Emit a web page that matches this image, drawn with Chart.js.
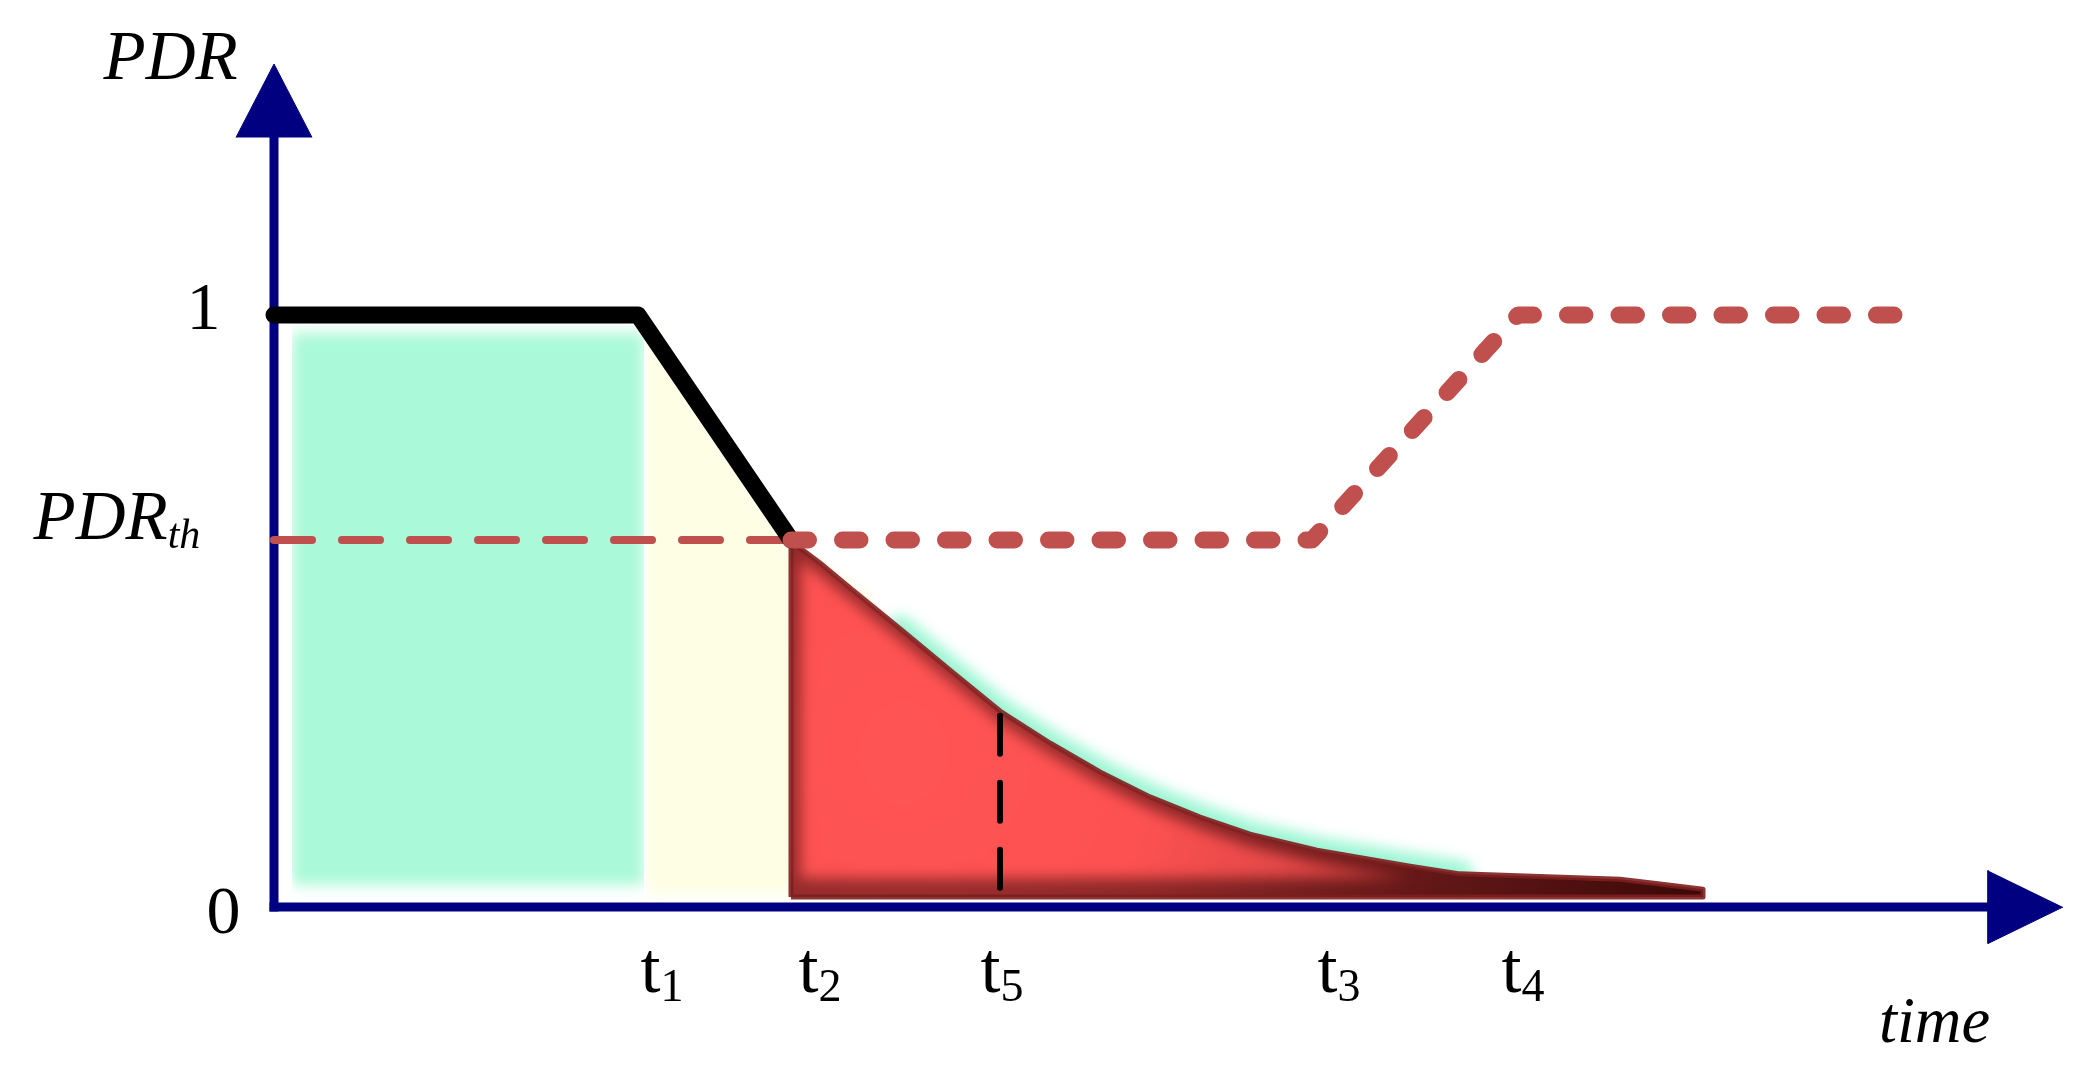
<!DOCTYPE html>
<html>
<head>
<meta charset="utf-8">
<script src="https://cdn.jsdelivr.net/npm/chart.js@4/dist/chart.umd.min.js"></script>
<style>
  html, body { margin: 0; padding: 0; background: #ffffff; }
  #wrap { position: relative; width: 2086px; height: 1071px; }
</style>
</head>
<body>
<div id="wrap"><canvas id="c"></canvas></div>
<script>
// ---------------- data ----------------
const PDR_TH = 0.62;

// tick labels
const xTickNames  = ['t', 't', 't', 't', 't'];
const xTickSubs   = ['1', '2', '5', '3', '4'];
const xTickValues = [3.88, 5.46, 7.28, 10.65, 12.49];
const yTickValues = [0, PDR_TH, 1];
const yTickNames  = ['0', 'PDR', '1'];
const yTickSubs   = ['', 'th', ''];
const axisTitles  = ['PDR', 'time'];

// measured PDR (solid black)
const pdrTime  = [0, 3.64, 5.17];
const pdrValue = [1, 1, PDR_TH];

// threshold (thin dashed)
const thresholdTime  = [0, 5.17];
const thresholdValue = [PDR_TH, PDR_TH];

// recovery (thick dotted)
const recoveryTime  = [5.17, 10.38, 12.44, 16.22];
const recoveryValue = [PDR_TH, PDR_TH, 1, 1];

// decay area (red)
const decayTime  = [5.17, 5.46, 5.76, 6.26, 6.76, 7.26, 7.76, 8.26, 8.76, 9.26, 9.76, 10.43, 11.36, 11.86, 13.46, 13.86, 14.29];
const decayValue = [0.618, 0.581, 0.539, 0.470, 0.400, 0.331, 0.277, 0.228, 0.186, 0.152, 0.123, 0.096, 0.069, 0.056, 0.047, 0.039, 0.030];
const DECAY_BASE = 0.017;

// t5 marker (black dashed)
const t5Time  = [7.26, 7.26];
const t5Value = [0.323, 0.032];

// normal phase (green block)
const normalTime  = [0.18, 3.70];
const normalValue = [0.97, 0.97];
const NORMAL_BASE = 0.037;

// degradation phase (pale yellow)
const degradeTime  = [3.72, 5.17, 6.0];
const degradeValue = [0.985, 0.605, 0.52];
const DEGRADE_BASE = 0.02;

// axes extents
const AXIS_X_END = 17.14, AXIS_X_TIP = 17.89;
const AXIS_Y_END = 1.30,  AXIS_Y_TIP = 1.424;

// ---------------- styles ----------------
const NAVY = '#000080';
const RED = '#c0504d';
const arrowStyle = { halfX: 0.38, halfY: 0.0617 };
const shadeInset = { left: 0.10, top: 0.02, bottom: 0.032 };
const decayStyle = {
  core: [6.3, 0.26], radius: 820,
  darkStops: [[0, '#a53232'], [0.35, '#8e2828'], [0.6, '#6a1a1a'], [1, '#3a0808']],
  brightStops: [[0, '#ff5454'], [0.3, '#fd5151'], [0.48, '#e44848'], [0.66, '#b33333'], [0.85, '#7a1e1e'], [1, '#4a0d0d']]
};
const labelStyle = {
  family: '"Liberation Serif", "Times New Roman", serif',
  color: '#000000',
  xTick: { size: 72, subSize: 46, dy: 85, subDy: 9 },
  yTick: [
    { size: 68, italic: false, dx: -67.6, dy: 26 },
    { size: 69, subSize: 42, italic: true, dx: -240.5, dy: -1, subDy: 9 },
    { size: 68, italic: false, dx: -87.5, dy: 14 }
  ],
  titleY: { size: 69, dx: -170.5, dy: 15 },
  titleX: { size: 64.5, dx: -184, dy: 135 }
};

const pts = (xs, ys) => xs.map((x, i) => ({ x, y: ys[i] }));

function radial(stops) {
  return function (c) {
    const chart = c.chart;
    const { ctx, chartArea, scales } = chart;
    if (!chartArea || !scales.x) return stops[0][1];
    const cx = scales.x.getPixelForValue(decayStyle.core[0]);
    const cy = scales.y.getPixelForValue(decayStyle.core[1]);
    const g = ctx.createRadialGradient(cx, cy, 0, cx, cy, decayStyle.radius);
    stops.forEach(([o, col]) => g.addColorStop(o, col));
    return g;
  };
}

// soft (blurred) edges for some layers
const softEdge = {
  id: 'softEdge',
  beforeDatasetDraw(chart, args) {
    const ds = chart.data.datasets[args.index];
    if (ds.blur) { chart.ctx.save(); chart.ctx.filter = 'blur(' + ds.blur + 'px)'; }
  },
  afterDatasetDraw(chart, args) {
    const ds = chart.data.datasets[args.index];
    if (ds.blur) chart.ctx.restore();
  }
};
try {
  const filler = Chart.registry.plugins.get('filler');
  Chart.unregister(filler);
  Chart.register(softEdge);
  Chart.register(filler);
} catch (e) {
  Chart.register(softEdge);
}

// text labels placed through the scales
const textLabels = {
  id: 'textLabels',
  afterDraw(chart) {
    const { ctx } = chart;
    const x = chart.scales.x, y = chart.scales.y;
    const S = labelStyle;
    const font = (size, italic) => (italic ? 'italic ' : '') + size + 'px ' + S.family;
    const x0 = x.getPixelForValue(0), y0 = y.getPixelForValue(0);
    ctx.save();
    ctx.fillStyle = S.color;
    ctx.textBaseline = 'alphabetic';
    ctx.textAlign = 'left';
    xTickValues.forEach((v, i) => {
      const t = S.xTick;
      ctx.font = font(t.size, false);
      const w1 = ctx.measureText(xTickNames[i]).width;
      ctx.font = font(t.subSize, false);
      const w2 = ctx.measureText(xTickSubs[i]).width;
      const left = x.getPixelForValue(v) - (w1 + w2) / 2;
      const base = y0 + t.dy;
      ctx.font = font(t.size, false);
      ctx.fillText(xTickNames[i], left, base);
      ctx.font = font(t.subSize, false);
      ctx.fillText(xTickSubs[i], left + w1, base + t.subDy);
    });
    yTickValues.forEach((v, i) => {
      const t = S.yTick[i];
      const left = x0 + t.dx;
      const base = y.getPixelForValue(v) + t.dy;
      ctx.font = font(t.size, t.italic);
      ctx.fillText(yTickNames[i], left, base);
      if (yTickSubs[i]) {
        const w1 = ctx.measureText(yTickNames[i]).width;
        ctx.font = font(t.subSize, t.italic);
        ctx.fillText(yTickSubs[i], left + w1, base + t.subDy);
      }
    });
    ctx.font = font(S.titleY.size, true);
    ctx.fillText(axisTitles[0], x0 + S.titleY.dx, y.getPixelForValue(AXIS_Y_TIP) + S.titleY.dy);
    ctx.font = font(S.titleX.size, true);
    ctx.fillText(axisTitles[1], x.getPixelForValue(AXIS_X_TIP) + S.titleX.dx, y0 + S.titleX.dy);
    ctx.restore();
  }
};

// decay region outline and its inset (for the inner shading)
const lastT = decayTime[decayTime.length - 1];
const decayPolygon = [{ x: decayTime[0], y: DECAY_BASE }]
  .concat(pts(decayTime, decayValue))
  .concat([{ x: lastT, y: DECAY_BASE }, { x: decayTime[0], y: DECAY_BASE }]);
const coreBase = DECAY_BASE + shadeInset.bottom;
const coreLeft = decayTime[0] + shadeInset.left;
const coreCurve = pts(decayTime, decayValue)
  .filter(p => p.x >= coreLeft)
  .map(p => ({ x: p.x, y: Math.max(coreBase, p.y - shadeInset.top) }));
const coreTopAtLeft = decayValue[0] + (decayValue[1] - decayValue[0]) * (coreLeft - decayTime[0]) / (decayTime[1] - decayTime[0]) - shadeInset.top;
const corePolygon = [{ x: coreLeft, y: coreBase }, { x: coreLeft, y: coreTopAtLeft }]
  .concat(coreCurve)
  .concat([{ x: lastT, y: coreBase }]);
const glowPoints = pts(decayTime, decayValue).filter(p => p.x >= 5.9 && p.x <= 12.5);

const datasets = [
  { label: 'y arrow', order: 1,
    data: [{ x: -arrowStyle.halfX, y: AXIS_Y_END }, { x: 0, y: AXIS_Y_TIP }, { x: arrowStyle.halfX, y: AXIS_Y_END }],
    fill: 'shape', backgroundColor: NAVY, borderColor: NAVY, borderWidth: 1 },
  { label: 'x arrow', order: 1,
    data: [{ x: AXIS_X_END, y: arrowStyle.halfY }, { x: AXIS_X_END, y: -arrowStyle.halfY }, { x: AXIS_X_TIP, y: 0 }],
    fill: 'shape', backgroundColor: NAVY, borderColor: NAVY, borderWidth: 1 },
  { label: 'recovery', order: 2, data: pts(recoveryTime, recoveryValue), fill: false,
    borderColor: RED, borderWidth: 17, borderDash: [17.5, 34], borderCapStyle: 'round', borderJoinStyle: 'round' },
  { label: 'PDR', order: 3, data: pts(pdrTime, pdrValue), fill: false,
    borderColor: '#000000', borderWidth: 17, borderCapStyle: 'round', borderJoinStyle: 'round' },
  { label: 'threshold', order: 4, data: pts(thresholdTime, thresholdValue), fill: false,
    borderColor: RED, borderWidth: 8, borderDash: [38, 30], borderCapStyle: 'round' },
  { label: 't5', order: 5, data: pts(t5Time, t5Value), fill: false,
    borderColor: '#000000', borderWidth: 6, borderDash: [38, 29], borderCapStyle: 'round' },
  { label: 'y axis', order: 6, data: [{ x: 0, y: AXIS_Y_END }, { x: 0, y: 0 }], fill: false,
    borderColor: NAVY, borderWidth: 9, borderCapStyle: 'square' },
  { label: 'x axis', order: 6, data: [{ x: 0, y: 0 }, { x: AXIS_X_END, y: 0 }], fill: false,
    borderColor: NAVY, borderWidth: 9, borderCapStyle: 'square' },
  { label: 'decay core', order: 6.8, data: corePolygon, fill: 'shape', blur: 7,
    backgroundColor: radial(decayStyle.brightStops), borderColor: 'rgba(0,0,0,0)', borderWidth: 0 },
  { label: 'decay', order: 7, data: decayPolygon, fill: 'shape',
    backgroundColor: radial(decayStyle.darkStops), borderColor: 'rgba(125,30,30,0.9)', borderWidth: 5, borderJoinStyle: 'round' },
  { label: 'glow', order: 8, data: glowPoints, fill: false, blur: 7,
    borderColor: 'rgba(150,245,210,0.95)', borderWidth: 26, borderCapStyle: 'round' },
  { label: 'degradation', order: 9, data: pts(degradeTime, degradeValue), blur: 7,
    fill: { value: DEGRADE_BASE }, backgroundColor: '#fdfee4', borderColor: 'rgba(0,0,0,0)', borderWidth: 0 },
  { label: 'normal', order: 10, data: pts(normalTime, normalValue), blur: 7,
    fill: { value: NORMAL_BASE }, backgroundColor: '#aaf9d8', borderColor: 'rgba(0,0,0,0)', borderWidth: 0 }
];

new Chart(document.getElementById('c'), {
  type: 'line',
  data: { datasets },
  options: {
    responsive: true,
    maintainAspectRatio: false,
    devicePixelRatio: 1,
    animation: false,
    events: [],
    layout: { padding: { left: 24, right: 12, top: 19, bottom: 16 } },
    elements: { point: { radius: 0, hoverRadius: 0 }, line: { tension: 0 } },
    plugins: { legend: { display: false }, tooltip: { enabled: false }, title: { display: false } },
    scales: {
      x: { type: 'linear', min: -2.5, max: 18, display: false },
      y: { type: 'linear', min: -0.25, max: 1.5, display: false }
    }
  },
  plugins: [textLabels]
});
</script>
</body>
</html>
